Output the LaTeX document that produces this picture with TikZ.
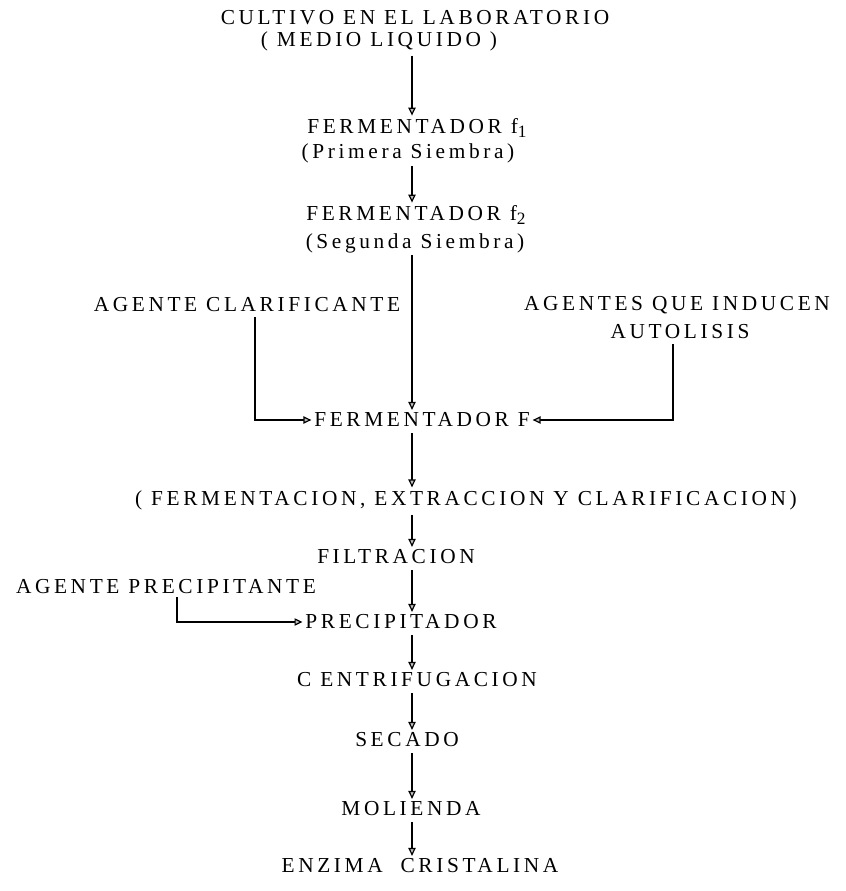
\documentclass[tikz,border=0pt]{standalone}
\usepackage{fontspec}
\setmainfont[LetterSpace=17]{Liberation Serif}
\usetikzlibrary{arrows.meta}
\usetikzlibrary{calc}

\tikzset{
  paso/.style={inner sep=0pt,font=\fontsize{16}{18}\selectfont},
  flecha/.style={-{Triangle[length=6pt,width=5.5pt,fill=gray!50]},line width=0.9pt,shorten >=2pt}
}
\newcommand{\subi}[1]{\raisebox{-0.4ex}{\fontsize{13}{13}\selectfont #1}}

\begin{document}
\begin{tikzpicture}[x=0.75pt,y=-0.75pt]
        \useasboundingbox (0,0) rectangle (845,891);
        \coordinate (eje) at (412,0);% main vertical line
        \coordinate (xclar) at (255,0);
        \coordinate (xauto) at (673,0);
        \coordinate (xprec) at (177,0);
        \node [paso] (lab1) at (415,18) {CULTIVO EN EL LABORATORIO};
        \node [paso] (lab2) at (379,41) {( MEDIO\ LIQUIDO )};
        \node [paso] (f1) at (417,128) {FERMENTADOR f\subi{1}};
        \node [paso] (f1b) at (408,153) {(Primera Siembra)};
        \node [paso] (f2) at (416,215) {FERMENTADOR f\subi{2}};
        \node [paso] (f2b) at (415,243) {(Segunda Siembra)};
        \node [paso] (clar) at (247,305) {AGENTE CLARIFICANTE};
        \node [paso] (auto1) at (677,305) {AGENTES QUE INDUCEN};
        \node [paso] (auto2) at (680,332) {AUTOLISIS};
        \node [paso] (ferm) at (422,420) {FERMENTADOR F};
        \node [paso] (proc) at (466,500) {( FERMENTACION, EXTRACCION Y CLARIFICACION)};
        \node [paso] (filt) at (396,557) {FILTRACION};
        \node [paso] (agprec) at (166,587) {AGENTE PRECIPITANTE};
        \node [paso] (prec) at (401,622) {PRECIPITADOR};
        \node [paso] (cent) at (417,680) {C ENTRIFUGACION};
        \node [paso] (sec) at (407,740) {SECADO};
        \node [paso] (mol) at (411,809) {MOLIENDA};
        \node [paso] (enz) at (420,866) {ENZIMA\ \ CRISTALINA};
        \draw [flecha] ($(lab2.south -| eje)+(0,5)$) -- (f1.north -| eje);
        \draw [flecha] ($(f1b.south -| eje)+(0,3)$) -- (f2.north -| eje);
        \draw [flecha] ($(f2b.south -| eje)+(0,2)$) -- (ferm.north -| eje);
        \draw [flecha] ($(clar.south -| xclar)+(0,5)$) |- (ferm.west);
        \draw [flecha] ($(auto2.south -| xauto)+(0,5)$) |- (ferm.east);
        \draw [flecha] ($(ferm.south -| eje)+(0,6)$) -- (proc.north -| eje);
        \draw [flecha] ($(proc.south -| eje)+(0,5)$) -- (filt.north -| eje);
        \draw [flecha] ($(filt.south -| eje)+(0,6)$) -- (prec.north -| eje);
        \draw [flecha] ($(agprec.south -| xprec)+(0,3)$) |- (prec.west);
        \draw [flecha] ($(prec.south -| eje)+(0,6)$) -- (cent.north -| eje);
        \draw [flecha] ($(cent.south -| eje)+(0,6)$) -- (sec.north -| eje);
        \draw [flecha] ($(sec.south -| eje)+(0,6)$) -- (mol.north -| eje);
        \draw [flecha] ($(mol.south -| eje)+(0,6)$) -- (enz.north -| eje);
    \end{tikzpicture}
\end{document}
